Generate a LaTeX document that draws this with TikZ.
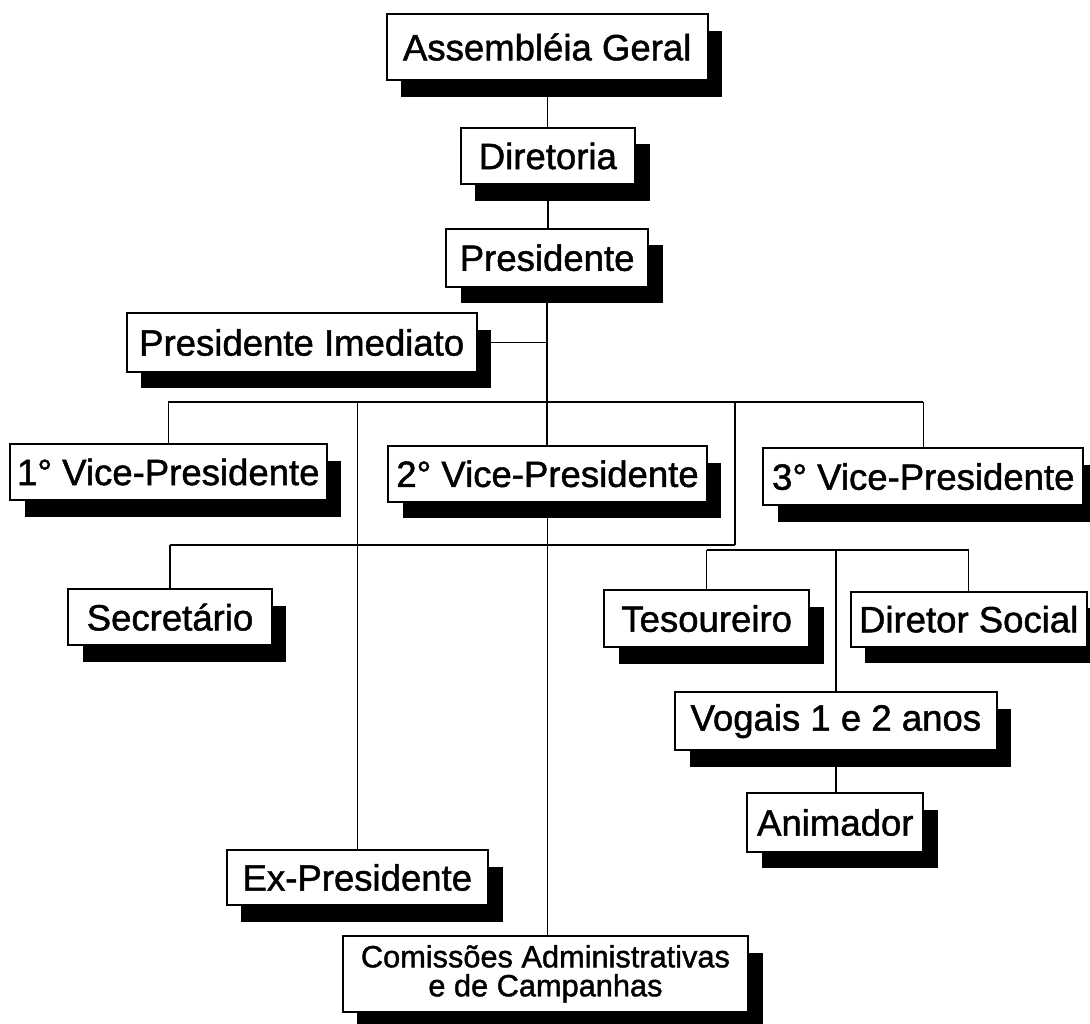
\documentclass[tikz,border=0pt]{standalone}
\usepackage{fontspec}
\setmainfont{Liberation Sans}[UprightFeatures={FakeBold=1.3}]
\usetikzlibrary{shadows,backgrounds}
\begin{document}
\begin{tikzpicture}[x=0.02cm,y=-0.02cm,
  box/.style={draw=black, line width=1.1pt, fill=white, inner sep=0pt,
    font=\fontsize{20.8}{24}\selectfont,
    drop shadow={shadow xshift=0.294cm, shadow yshift=-0.334cm, opacity=1, fill=black}},
  sz/.style 2 args={minimum width=#1*0.02cm, minimum height=#2*0.02cm},
  conn/.style={line width=0.8pt}]
\useasboundingbox (0,0) rectangle (1090,1024);

\node[box, sz={321}{66}] (ag) at (547.2,47) {Assembléia Geral};
\node[box, sz={174.3}{56.6}] (dir) at (547.85,156) {Diretoria};
\node[box, sz={202.3}{58}] (pres) at (547.15,257.7) {Presidente};
\node[box, sz={350}{58.4}] (pi) at (301.7,342.5) {Presidente Imediato};
\node[box, sz={316.7}{56}] (vp1) at (168.35,472) {1° Vice-Presidente};
\node[box, sz={318.4}{55.7}] (vp2) at (547.5,473.85) {2° Vice-Presidente};
\node[box, sz={320}{56.7}] (vp3) at (923.3,476.65) {3° Vice-Presidente};
\node[box, sz={203.4}{55.7}] (sec) at (170,617.15) {Secretário};
\node[box, sz={205.3}{57.3}] (tes) at (706.65,618.65) {Tesoureiro};
\node[box, sz={236}{55}] (ds) at (968.7,619.2) {Diretor Social};
\node[box, sz={321.7}{57.7}] (vog) at (835.85,721.15) {Vogais 1 e 2 anos};
\node[box, sz={176}{58.4}] (ani) at (835.3,822.5) {Animador};
\node[box, sz={261.3}{55}] (ex) at (357.35,877.5) {Ex-Presidente};
\node[box, sz={405.7}{75.7}, align=center,
  font=\fontsize{17.5}{16.5}\selectfont] (com) at (545.45,973.85) {Comissões Administrativas\\e de Campanhas};

\coordinate (lev1) at (0,402);
\coordinate (j2) at (735,402);
\coordinate (lev2) at (0,545);
\coordinate (lev3) at (0,550);

\begin{pgfonlayer}{background}
\draw[conn] (ag.south) -- (ag.south |- dir.north);
\draw[conn] (dir.south) -- (dir.south |- pres.north);
\draw[conn] (pres.south) -- (pres.south |- vp2.north);
\draw[conn] (pi.east) -- (pi.east -| pres.south);
\draw[conn] (vp1.north |- lev1) -- (vp3.north |- lev1);
\draw[conn] (vp1.north) -- (vp1.north |- lev1);
\draw[conn] (ex.north) -- (ex.north |- lev1);
\draw[conn] (vp3.north) -- (vp3.north |- lev1);
\draw[conn] (j2) -- (j2 |- lev2);
\draw[conn] (sec.north |- lev2) -- (j2 |- lev2);
\draw[conn] (sec.north) -- (sec.north |- lev2);
\draw[conn] (tes.north |- lev3) -- (ds.north |- lev3);
\draw[conn] (tes.north) -- (tes.north |- lev3);
\draw[conn] (ds.north) -- (ds.north |- lev3);
\draw[conn] (vog.north) -- (vog.north |- lev3);
\draw[conn] (vog.south) -- (vog.south |- ani.north);
\draw[conn] (vp2.south) -- (vp2.south |- com.north);
\end{pgfonlayer}
\end{tikzpicture}
\end{document}
